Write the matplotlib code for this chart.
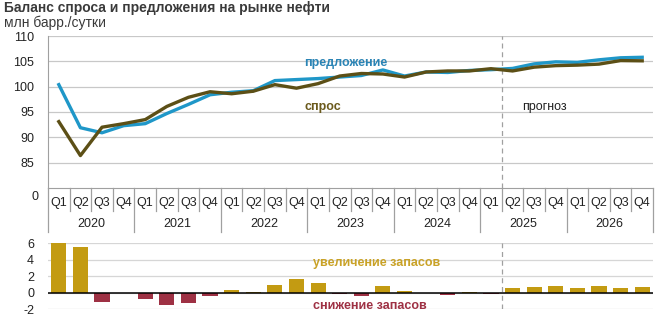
import matplotlib
matplotlib.use("Agg")
import matplotlib.pyplot as plt
import matplotlib.transforms as mtransforms
import numpy as np

plt.rcParams['font.family'] = ['Liberation Sans', 'DejaVu Sans']

years = ["2020", "2021", "2022", "2023", "2024", "2025", "2026"]
quarters = ["Q1", "Q2", "Q3", "Q4"]
supply = [100.4, 91.9, 90.9, 92.3, 92.7, 94.7, 96.5, 98.4, 98.9, 99.2, 101.2, 101.4,
          101.6, 101.9, 102.2, 103.3, 102.1, 102.9, 102.8, 103.2, 103.35, 103.6,
          104.5, 104.9, 104.8, 105.3, 105.7, 105.8]
demand = [93.1, 86.4, 92.0, 92.7, 93.5, 96.1, 97.9, 99.0, 98.6, 99.1, 100.4, 99.7,
          100.6, 102.1, 102.6, 102.5, 101.9, 102.9, 103.1, 103.1, 103.55, 103.1,
          103.85, 104.15, 104.25, 104.45, 105.15, 105.1]
balance = [6.0, 5.55, -1.15, 0.0, -0.8, -1.45, -1.3, -0.45, 0.28, 0.12, 0.88, 1.6,
           1.12, -0.2, -0.45, 0.85, 0.25, 0.0, -0.32, 0.1, -0.2, 0.52, 0.65, 0.77,
           0.52, 0.85, 0.52, 0.72]
top_ticks = [85, 90, 95, 100, 105, 110]
bottom_ticks = [-2, 0, 2, 4, 6]
forecast_start = 20.5

W, H = 655, 325
fig = plt.figure(figsize=(W / 100, H / 100), dpi=100)

def fx(px):
    return px / W

def fy(py):
    return 1 - py / H

left_px, right_px = 48, 653
ax = fig.add_axes([fx(left_px), fy(188), fx(right_px - left_px), (188 - 36) / H])
ax2 = fig.add_axes([fx(left_px), fy(309.3), fx(right_px - left_px), (309.3 - 243) / H])

n = len(supply)
x = np.arange(n)
grid_c = "#c8c8c8"
blue = "#1f97c8"
olive = "#5c4f16"
gold = "#c39b12"
red = "#9e3144"

# ---- top chart
ax.set_xlim(-0.5, n - 0.5)
ax.set_ylim(80, 110)
for t in top_ticks:
    ax.axhline(t, color=grid_c, lw=0.9, zorder=0)
ax.plot(x, supply, color=blue, lw=2.4, solid_joinstyle="round", zorder=3)
ax.plot(x, demand, color=olive, lw=2.4, solid_joinstyle="round", zorder=4)
ax.axvline(forecast_start, color="#a0a0a0", lw=0.9, ls=(0, (4, 3)), zorder=1)
for s in ["top", "right"]:
    ax.spines[s].set_visible(False)
ax.spines["left"].set_color("#a0a0a0")
ax.spines["bottom"].set_color("#a0a0a0")
ax.set_yticks(top_ticks)
ax.set_yticklabels([str(t) for t in top_ticks], fontsize=9, color="#222222")
ax.tick_params(axis="y", length=0, pad=10)
ax.set_xticks([])
fig.text(fx(38), fy(197), "0", ha="right", va="center", fontsize=9, color="#222222")

# category axis (two-level)
trans = mtransforms.blended_transform_factory(ax.transData, ax.transAxes)
hpx = 152.0
for i in range(1, n):
    if i % 4 == 0:
        continue
    ax.plot([i - 0.5, i - 0.5], [0, -23 / hpx], transform=trans, color="#a0a0a0",
            lw=0.9, clip_on=False)
for i in range(0, n + 1, 4):
    ax.plot([i - 0.5, i - 0.5], [0, -44 / hpx], transform=trans, color="#a0a0a0",
            lw=0.9, clip_on=False)
for i in range(n):
    ax.text(i, -15 / hpx, quarters[i % 4], transform=trans, ha="center", va="center",
            fontsize=9, color="#222222", clip_on=False)
for k, yr in enumerate(years):
    ax.text(4 * k + 1.5, -36 / hpx, yr, transform=trans, ha="center", va="center",
            fontsize=9, color="#222222", clip_on=False)

# series labels
ax.text(11.35, 104.6, "предложение", color="#2a84b5", fontsize=9, fontweight="bold",
        ha="left", va="center")
ax.text(11.35, 96.0, "спрос", color="#6b5a1c", fontsize=9, fontweight="bold",
        ha="left", va="center")
ax.text(21.43, 96.0, "прогноз", color="#222222", fontsize=9, ha="left", va="center")

# ---- bottom chart
ax2.set_xlim(-0.5, n - 0.5)
ax2.set_ylim(-2, 6)
for t in bottom_ticks:
    ax2.axhline(t, color="#d6d6d6", lw=0.9, zorder=0)
colors = [gold if v >= 0 else red for v in balance]
ax2.bar(x, balance, width=0.7, color=colors, zorder=2)
ax2.axhline(0, color="black", lw=1.1, zorder=3)
ax2.axvline(forecast_start, color="#a0a0a0", lw=0.9, ls=(0, (4, 3)), zorder=1)
for s in ax2.spines.values():
    s.set_visible(False)
ax2.set_yticks(bottom_ticks)
ax2.set_yticklabels([str(t) for t in bottom_ticks], fontsize=9, color="#222222")
ax2.tick_params(axis="y", length=0, pad=10)
ax2.set_xticks([])
ax2.text(11.75, 3.6, "увеличение запасов", color="#c9a227", fontsize=9,
         fontweight="bold", ha="left", va="center")
ax2.text(11.75, -1.55, "снижение запасов", color="#9e3144", fontsize=9,
         fontweight="bold", ha="left", va="center")

# titles
fig.text(fx(4), fy(8), "Баланс спроса и предложения на рынке нефти", fontsize=10,
         fontweight="bold", color="#3a3a3a", ha="left", va="center")
fig.text(fx(4), fy(23), "млн барр./сутки", fontsize=10, color="#3a3a3a",
         ha="left", va="center")

fig.savefig("out.png", dpi=100)
